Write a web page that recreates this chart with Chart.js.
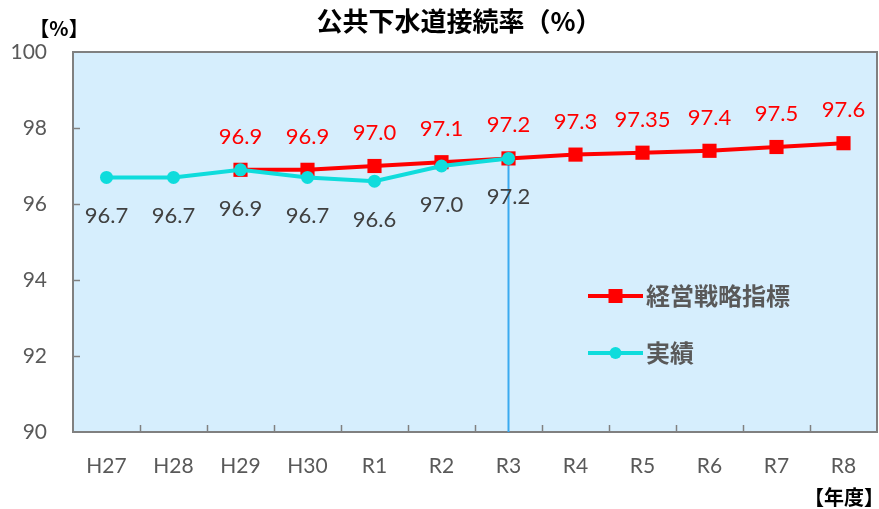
<!DOCTYPE html>
<html>
<head>
<meta charset="utf-8">
<script src="https://cdn.jsdelivr.net/npm/chart.js@4.4.1/dist/chart.umd.min.js"></script>
<style>
  html, body { margin: 0; padding: 0; background: #ffffff; }
  #wrap { width: 879px; height: 509px; position: relative; }
</style>
</head>
<body>
<div id="wrap"><canvas id="chart" width="879" height="509"></canvas></div>
<script>
// Fiscal years (Heisei / Reiwa)
const categories = ['H27', 'H28', 'H29', 'H30', 'R1', 'R2', 'R3', 'R4', 'R5', 'R6', 'R7', 'R8'];
// Management strategy target (%)
const targetValues = [null, null, 96.9, 96.9, 97.0, 97.1, 97.2, 97.3, 97.35, 97.4, 97.5, 97.6];
// Actual connection rate (%)
const actualValues = [96.7, 96.7, 96.9, 96.7, 96.6, 97.0, 97.2, null, null, null, null, null];
// Y axis range and step
const yTicks = [90, 92, 94, 96, 98, 100];

const seriesNames = ['経営戦略指標', '実績'];
const titleText = '公共下水道接続率（%）';
const yUnitText = '【%】';
const xUnitText = '【年度】';

const RED = '#ff0000';
const CYAN = '#0fdcdc';
const GREY = '#595959';
const AXIS = '#808080';
const NUM_FONT = 'Lato, "Open Sans", sans-serif';
const JP_FONT = '"Noto Sans CJK JP", "Noto Sans", sans-serif';

function fmt(v) {
  return Math.round(v * 10) === v * 10 ? v.toFixed(1) : String(v);
}

const decorPlugin = {
  id: 'decor',
  beforeDraw(chart) {
    const { ctx, chartArea: a } = chart;
    ctx.save();
    ctx.fillStyle = '#d6eefd';
    ctx.fillRect(a.left, a.top, a.right - a.left, a.bottom - a.top);
    ctx.restore();
  },
  beforeDatasetsDraw(chart) {
    const { ctx, chartArea: a, scales } = chart;
    ctx.save();
    // frame
    ctx.strokeStyle = AXIS;
    ctx.lineWidth = 2;
    ctx.strokeRect(a.left, a.top, a.right - a.left, a.bottom - a.top);
    // inward tick marks on the value axis
    ctx.lineWidth = 1.5;
    yTicks.forEach(t => {
      if (t === yTicks[0] || t === yTicks[yTicks.length - 1]) return;
      const y = Math.round(scales.y.getPixelForValue(t)) + 0.5;
      ctx.beginPath();
      ctx.moveTo(a.left, y);
      ctx.lineTo(a.left + 7, y);
      ctx.stroke();
    });
    // inward tick marks between categories
    const step = (a.right - a.left) / categories.length;
    for (let i = 1; i < categories.length; i++) {
      const x = Math.round(a.left + i * step) + 0.5;
      ctx.beginPath();
      ctx.moveTo(x, a.bottom);
      ctx.lineTo(x, a.bottom - 7);
      ctx.stroke();
    }
    // drop line from the latest actual value
    let last = -1;
    actualValues.forEach((v, i) => { if (v !== null) last = i; });
    if (last >= 0) {
      const x = Math.round(scales.x.getPixelForValue(last)) + 0.5;
      const y = scales.y.getPixelForValue(actualValues[last]);
      ctx.strokeStyle = '#3aaaf0';
      ctx.lineWidth = 2;
      ctx.beginPath();
      ctx.moveTo(x, y);
      ctx.lineTo(x, a.bottom);
      ctx.stroke();
    }
    ctx.restore();
  },
  afterDatasetsDraw(chart) {
    const { ctx } = chart;
    ctx.save();
    ctx.textAlign = 'center';
    ctx.textBaseline = 'middle';
    ctx.font = '22px ' + NUM_FONT;
    // target labels above points
    const redMeta = chart.getDatasetMeta(1);
    ctx.fillStyle = RED;
    targetValues.forEach((v, i) => {
      if (v === null) return;
      const p = redMeta.data[i];
      ctx.fillText(fmt(v), p.x, p.y - 33);
    });
    // actual labels below points
    const cyMeta = chart.getDatasetMeta(0);
    ctx.fillStyle = '#404040';
    actualValues.forEach((v, i) => {
      if (v === null) return;
      const p = cyMeta.data[i];
      ctx.fillText(fmt(v), p.x, p.y + 39);
    });

    // legend
    const lx = 588, lw = 55;
    const rows = [
      { y: 296, color: RED, shape: 'square', text: seriesNames[0] },
      { y: 353, color: CYAN, shape: 'circle', text: seriesNames[1] }
    ];
    rows.forEach(r => {
      ctx.strokeStyle = r.color;
      ctx.fillStyle = r.color;
      ctx.lineWidth = 4;
      ctx.beginPath();
      ctx.moveTo(lx, r.y);
      ctx.lineTo(lx + lw, r.y);
      ctx.stroke();
      const cx = lx + lw / 2;
      if (r.shape === 'square') {
        ctx.fillRect(cx - 7, r.y - 7, 14, 14);
      } else {
        ctx.beginPath();
        ctx.arc(cx, r.y, 6, 0, Math.PI * 2);
        ctx.fill();
      }
      ctx.fillStyle = GREY;
      ctx.font = 'bold 24px ' + JP_FONT;
      ctx.textAlign = 'left';
      ctx.fillText(r.text, lx + lw + 3, r.y);
    });

    // title and unit captions
    ctx.fillStyle = '#000000';
    ctx.textAlign = 'center';
    ctx.font = 'bold 26px ' + JP_FONT;
    ctx.fillText(titleText, 459, 21);
    ctx.font = 'bold 20px ' + JP_FONT;
    ctx.fillText(yUnitText, 59, 28);
    ctx.textAlign = 'right';
    ctx.fillText(xUnitText, 884, 497);
    ctx.restore();
  }
};

new Chart(document.getElementById('chart'), {
  type: 'line',
  data: {
    labels: categories,
    datasets: [
      {
        label: seriesNames[1],
        data: actualValues,
        borderColor: CYAN,
        backgroundColor: CYAN,
        borderWidth: 4,
        pointStyle: 'circle',
        pointRadius: 6.5,
        pointHoverRadius: 6.5,
        pointBorderWidth: 0,
        spanGaps: false,
        tension: 0
      },
      {
        label: seriesNames[0],
        data: targetValues,
        borderColor: RED,
        backgroundColor: RED,
        borderWidth: 4,
        pointStyle: 'rect',
        pointRadius: 10,
        pointHoverRadius: 10,
        pointBorderWidth: 0,
        spanGaps: false,
        tension: 0
      }
    ]
  },
  options: {
    responsive: false,
    animation: false,
    devicePixelRatio: 1,
    layout: { autoPadding: false, padding: { top: 52, right: 2, left: 0, bottom: 0 } },
    plugins: {
      legend: { display: false },
      title: { display: false },
      tooltip: { enabled: false }
    },
    scales: {
      x: {
        type: 'category',
        offset: true,
        grid: { display: false, drawTicks: false },
        border: { display: false },
        ticks: {
          color: GREY,
          font: { family: NUM_FONT, size: 21 },
          padding: 22,
          maxRotation: 0,
          autoSkip: false
        },
        afterFit(scale) { scale.height = 77; }
      },
      y: {
        min: yTicks[0],
        max: yTicks[yTicks.length - 1],
        grid: { display: false, drawTicks: false },
        border: { display: false },
        ticks: {
          stepSize: yTicks[1] - yTicks[0],
          color: GREY,
          font: { family: NUM_FONT, size: 21 },
          padding: 26
        },
        afterFit(scale) { scale.width = 73; }
      }
    }
  },
  plugins: [decorPlugin]
});
</script>
</body>
</html>
